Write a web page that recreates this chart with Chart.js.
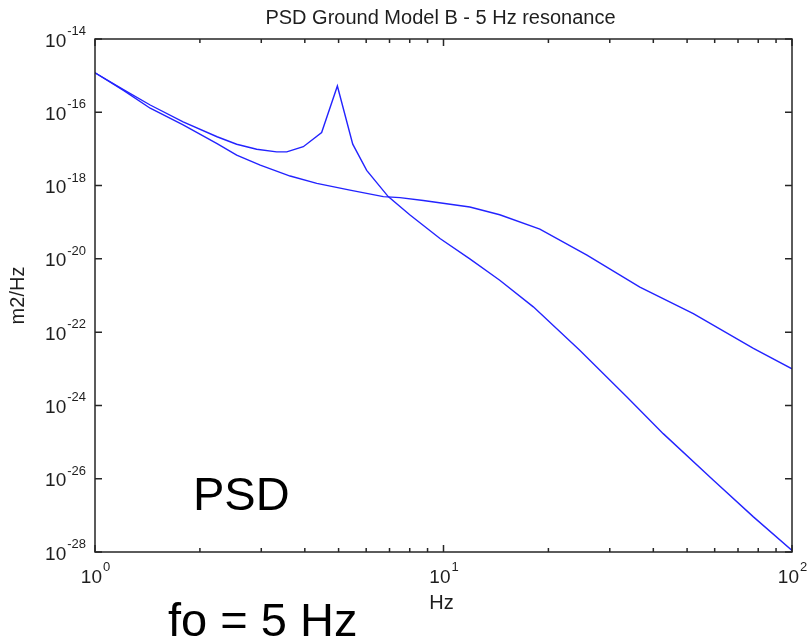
<!DOCTYPE html>
<html>
<head>
<meta charset="utf-8">
<title>PSD Ground Model B - 5 Hz resonance</title>
<script src="https://cdn.jsdelivr.net/npm/chart.js@4.4.1/dist/chart.umd.min.js"></script>
<style>
    html, body { margin: 0; padding: 0; background: #fff; }
    #wrap { position: relative; width: 808px; height: 637px; }
</style>
</head>
<body>
<div id="wrap"><canvas id="chPsd"></canvas></div>
<script>
// PSD Ground Model B - log/log plot, ground PSD with and without a 5 Hz resonance

// Ground + resonance (the curve with the peak)
const freqResonance = [1, 1.21, 1.44, 1.79, 2.24, 2.55, 2.91, 3.32, 3.55, 3.96, 4.47, 4.96, 5.49, 6.02, 6.94, 8.0, 9.77, 11.9, 14.5, 18.1, 24.6, 33.6, 42.7, 59.5, 77.5, 100];
const psdResonance = [1.2e-15, 4.1e-16, 1.58e-16, 5.5e-17, 2.15e-17, 1.34e-17, 9.8e-18, 8.3e-18, 8.3e-18, 1.15e-17, 2.8e-17, 5.2e-16, 1.35e-17, 2.6e-18, 5.0e-19, 1.6e-19, 3.6e-20, 1.0e-20, 2.6e-21, 4.9e-22, 3.2e-23, 1.7e-24, 1.7e-25, 9.1e-27, 9.1e-28, 1.1e-28];

// Plain ground model
const freqGround = [1, 1.21, 1.44, 1.79, 2.24, 2.55, 2.98, 3.63, 4.33, 5.39, 6.72, 7.5, 8.75, 11.9, 14.5, 18.9, 25.8, 36.6, 52.1, 77.5, 100];
const psdGround = [1.2e-15, 3.9e-16, 1.29e-16, 4.5e-17, 1.4e-17, 6.8e-18, 3.6e-18, 1.82e-18, 1.15e-18, 7.5e-19, 5.0e-19, 4.7e-19, 3.9e-19, 2.6e-19, 1.6e-19, 6.5e-20, 1.26e-20, 1.7e-21, 3.2e-22, 3.6e-23, 1.0e-23];

// Axis ticks
const xMajorTicks = [1, 10, 100];
const xMajorExp = ['0', '1', '2'];
const xMinorTicks = [2, 3, 4, 5, 6, 7, 8, 9, 20, 30, 40, 50, 60, 70, 80, 90];
const yMajorTicks = [1e-14, 1e-16, 1e-18, 1e-20, 1e-22, 1e-24, 1e-26, 1e-28];
const yMajorExp = ['-14', '-16', '-18', '-20', '-22', '-24', '-26', '-28'];

// Texts
const titleText = 'PSD Ground Model B - 5 Hz resonance';
const xAxisLabel = 'Hz';
const yAxisLabel = 'm2/Hz';
const noteInside = 'PSD';
const noteBelow = 'fo = 5 Hz';

const FONT = "'Liberation Sans', Arial, Helvetica, sans-serif";
const TEXT_COLOR = '#1e1e1e';
const AXIS_COLOR = '#262626';
const LINE_COLOR = 'rgb(35,35,255)';

function toPoints(xs, ys) {
    return xs.map((x, i) => ({ x: x, y: ys[i] }));
}

// MATLAB style box: inward ticks on all 4 sides, 10^n labels
const matlabAxes = {
    id: 'matlabAxes',
    afterDraw(chart) {
        const ctx = chart.ctx;
        const a = chart.chartArea;
        const sx = chart.scales.x;
        const sy = chart.scales.y;

        ctx.save();
        ctx.strokeStyle = AXIS_COLOR;
        ctx.lineWidth = 1.5;
        ctx.strokeRect(a.left, a.top, a.right - a.left, a.bottom - a.top);

        ctx.beginPath();
        xMajorTicks.forEach(v => {
            const px = sx.getPixelForValue(v);
            ctx.moveTo(px, a.bottom); ctx.lineTo(px, a.bottom - 7);
            ctx.moveTo(px, a.top); ctx.lineTo(px, a.top + 7);
        });
        xMinorTicks.forEach(v => {
            const px = sx.getPixelForValue(v);
            ctx.moveTo(px, a.bottom); ctx.lineTo(px, a.bottom - 4);
            ctx.moveTo(px, a.top); ctx.lineTo(px, a.top + 4);
        });
        yMajorTicks.forEach(v => {
            const py = sy.getPixelForValue(v);
            ctx.moveTo(a.left, py); ctx.lineTo(a.left + 7, py);
            ctx.moveTo(a.right, py); ctx.lineTo(a.right - 7, py);
        });
        ctx.stroke();

        ctx.fillStyle = TEXT_COLOR;
        const baseFont = '19px ' + FONT;
        const expFont = '13px ' + FONT;
        ctx.textBaseline = 'alphabetic';

        // y tick labels
        yMajorTicks.forEach((v, i) => {
            const py = sy.getPixelForValue(v);
            ctx.font = expFont;
            const ew = ctx.measureText(yMajorExp[i]).width;
            ctx.textAlign = 'left';
            ctx.fillText(yMajorExp[i], a.left - 9 - ew, py - 4);
            ctx.font = baseFont;
            ctx.textAlign = 'right';
            ctx.fillText('10', a.left - 10 - ew, py + 7.5);
        });

        // x tick labels
        xMajorTicks.forEach((v, i) => {
            const px = sx.getPixelForValue(v);
            ctx.font = baseFont;
            const bw = ctx.measureText('10').width;
            ctx.font = expFont;
            const ew = ctx.measureText(xMajorExp[i]).width;
            const x0 = px - (bw + ew) / 2;
            ctx.textAlign = 'left';
            ctx.font = baseFont;
            ctx.fillText('10', x0, a.bottom + 31);
            ctx.font = expFont;
            ctx.fillText(xMajorExp[i], x0 + bw + 1, a.bottom + 19);
        });

        // title and axis labels
        const cx = (a.left + a.right) / 2;
        ctx.font = '20px ' + FONT;
        ctx.textAlign = 'center';
        ctx.fillText(titleText, cx - 3, 24);
        ctx.fillText(xAxisLabel, cx - 2, 609);

        ctx.save();
        ctx.translate(24, (a.top + a.bottom) / 2);
        ctx.rotate(-Math.PI / 2);
        ctx.fillText(yAxisLabel, 0, 0);
        ctx.restore();

        // slide annotations
        ctx.fillStyle = '#000';
        ctx.font = '47px ' + FONT;
        ctx.textAlign = 'left';
        ctx.fillText(noteInside, 193, 510);
        ctx.fillText(noteBelow, 168, 636);

        ctx.restore();
    }
};

const chPsd = new Chart(document.getElementById('chPsd').getContext('2d'), {
    type: 'line',
    data: {
        datasets: [
            {
                label: 'Ground + 5 Hz resonance',
                data: toPoints(freqResonance, psdResonance),
                borderColor: LINE_COLOR,
                borderWidth: 1.4,
                pointRadius: 0,
                tension: 0,
                fill: false
            },
            {
                label: 'Ground model B',
                data: toPoints(freqGround, psdGround),
                borderColor: LINE_COLOR,
                borderWidth: 1.4,
                pointRadius: 0,
                tension: 0,
                fill: false
            }
        ]
    },
    options: {
        responsive: true,
        maintainAspectRatio: false,
        animation: false,
        layout: { padding: { left: 95, top: 39, right: 16, bottom: 85 } },
        scales: {
            x: { type: 'logarithmic', min: 1, max: 100, display: false },
            y: { type: 'logarithmic', min: 1e-28, max: 1e-14, display: false }
        },
        plugins: {
            legend: { display: false },
            tooltip: { enabled: false }
        }
    },
    plugins: [matlabAxes]
});
</script>
</body>
</html>
